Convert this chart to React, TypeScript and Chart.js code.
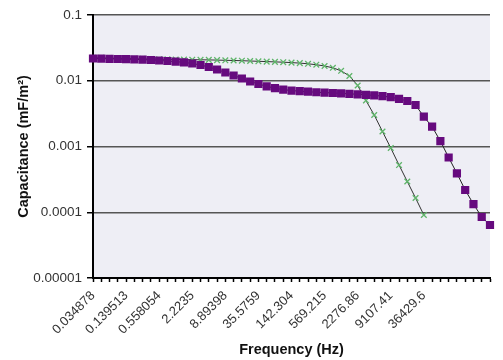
import { useEffect, useRef } from 'react';
import { Chart, registerables } from 'chart.js';

Chart.register(...registerables);

// Frequency categories (Hz); the last eight categories carry no label in the original
const CATEGORIES = [
  '0.034878', '0.049325', '0.069756', '0.09865', '0.139513', '0.197302', '0.279027', '0.394603',
  '0.558054', '0.789207', '1.11612', '1.57841', '2.2235', '3.14449', '4.44699', '6.289',
  '8.89398', '12.578', '17.788', '25.1559', '35.5759', '50.3117', '71.152', '100.623',
  '142.304', '201.247', '284.608', '402.494', '569.215', '804.99', '1138.43', '1609.98',
  '2276.86', '3219.96', '4553.72', '6439.93', '9107.41', '12879.8', '18214.8', '25759.7',
  '36429.6', '', '', '', '', '', '', '', '',
];

// Series 1: purple squares
const PURPLE_VALUES = [
  0.0218, 0.02172, 0.02157, 0.02142, 0.02127, 0.02112, 0.0209, 0.02068, 0.02032, 0.01997,
  0.01956, 0.01901, 0.0183, 0.01736, 0.01618, 0.01483, 0.01335, 0.01202, 0.01082, 0.00974,
  0.00893, 0.00824, 0.0077, 0.00733, 0.0071, 0.00693, 0.00681, 0.00669, 0.0066, 0.00651,
  0.00642, 0.00633, 0.00622, 0.00611, 0.00599, 0.00582, 0.00562, 0.00531, 0.00492, 0.00428,
  0.00284, 0.002, 0.00121, 0.00068, 0.000391, 0.000218, 0.000133, 0.0000847, 0.000064,
];

// Series 2: green crosses
const GREEN_VALUES = [
  0.02234, 0.02226, 0.0221, 0.02195, 0.0218, 0.02164, 0.02149, 0.02134, 0.02119, 0.02112,
  0.02105, 0.02097, 0.0209, 0.02083, 0.02075, 0.02061, 0.02046, 0.02032, 0.02018, 0.01997,
  0.01976, 0.01955, 0.01935, 0.01915, 0.01888, 0.01855, 0.0181, 0.01754, 0.01676, 0.01574,
  0.01417, 0.01181, 0.008469, 0.005007, 0.003013, 0.001691, 0.000949, 0.000523, 0.0002935, 0.0001647,
  0.0000908,
];

const Y_TICKS = [0.00001, 0.0001, 0.001, 0.01, 0.1];
const Y_TICK_LABELS = ['0.00001', '0.0001', '0.001', '0.01', '0.1'];
const LABEL_EVERY = 4;

const FONT = "'Liberation Sans', Arial, sans-serif";

const plotBackground = {
  id: 'plotBackground',
  beforeDraw(chart: any) {
    const { ctx, chartArea: a } = chart;
    ctx.save();
    ctx.fillStyle = '#eeeef5';
    ctx.fillRect(a.left, a.top, a.right - a.left, a.bottom - a.top);
    ctx.restore();
  },
};

export default function App() {
  const ref = useRef<HTMLCanvasElement | null>(null);

  useEffect(() => {
    document.body.style.margin = '0';
    if (!ref.current) return;
    const chart = new Chart(ref.current, {
      type: 'line',
      data: {
        labels: CATEGORIES,
        datasets: [
          {
            label: 'Series 1',
            data: PURPLE_VALUES,
            borderColor: '#222222',
            borderWidth: 1,
            pointStyle: 'rect',
            pointRadius: 5.8,
            pointBackgroundColor: '#660a7e',
            pointBorderColor: '#660a7e',
            pointBorderWidth: 0,
            tension: 0,
          },
          {
            label: 'Series 2',
            data: GREEN_VALUES,
            borderColor: '#333333',
            borderWidth: 1,
            pointStyle: 'crossRot',
            pointRadius: 4,
            pointBorderColor: '#5fb56a',
            pointBorderWidth: 1.3,
            tension: 0,
          },
        ],
      },
      options: {
        animation: false,
        responsive: false,
        devicePixelRatio: 1,
        layout: { padding: { left: 0, right: 13, top: 15, bottom: 0 } },
        plugins: {
          legend: { display: false },
          tooltip: { enabled: false },
        },
        scales: {
          x: {
            type: 'category',
            offset: false,
            grid: {
              display: true,
              drawOnChartArea: false,
              drawTicks: true,
              tickLength: 4,
              tickColor: '#000',
              tickWidth: 1.5,
            },
            border: { color: '#000', width: 2 },
            ticks: {
              autoSkip: false,
              minRotation: 45,
              maxRotation: 45,
              padding: 6,
              color: '#333',
              font: { family: FONT, size: 13 },
              callback: function (this: any, value: any, index: number) {
                return index % LABEL_EVERY === 0 ? this.getLabelForValue(value) : '';
              },
            },
            title: {
              display: true,
              text: 'Frequency (Hz)',
              color: '#111',
              font: { family: FONT, size: 14.5, weight: 'bold' },
              padding: { top: 0, bottom: 1 },
            },
            afterFit: (scale: any) => {
              scale.height = 82;
              scale.paddingLeft = 0;
              scale.paddingRight = 0;
            },
          },
          y: {
            type: 'logarithmic',
            min: 0.00001,
            max: 0.1,
            afterBuildTicks: (scale: any) => {
              scale.ticks = Y_TICKS.map((v) => ({ value: v }));
            },
            grid: {
              color: '#555555',
              lineWidth: 1.5,
              tickColor: '#000',
              tickLength: 6,
              tickWidth: 1.5,
            },
            border: { color: '#000', width: 2 },
            ticks: {
              padding: 5,
              color: '#333',
              font: { family: FONT, size: 13.5 },
              callback: (value: any) => {
                const i = Y_TICKS.findIndex((t) => Math.abs(t - Number(value)) / t < 1e-6);
                return i >= 0 ? Y_TICK_LABELS[i] : '';
              },
            },
            title: {
              display: true,
              text: 'Capacitance (mF/m²)',
              color: '#111',
              font: { family: FONT, size: 14.5, weight: 'bold' },
              padding: { top: 15, bottom: 0 },
            },
            afterFit: (scale: any) => {
              scale.width = 93;
            },
          },
        },
      },
      plugins: [plotBackground],
    } as any);
    return () => chart.destroy();
  }, []);

  return (
    <div style={{ width: 503, height: 360 }}>
      <canvas ref={ref} width={503} height={360} />
    </div>
  );
}
